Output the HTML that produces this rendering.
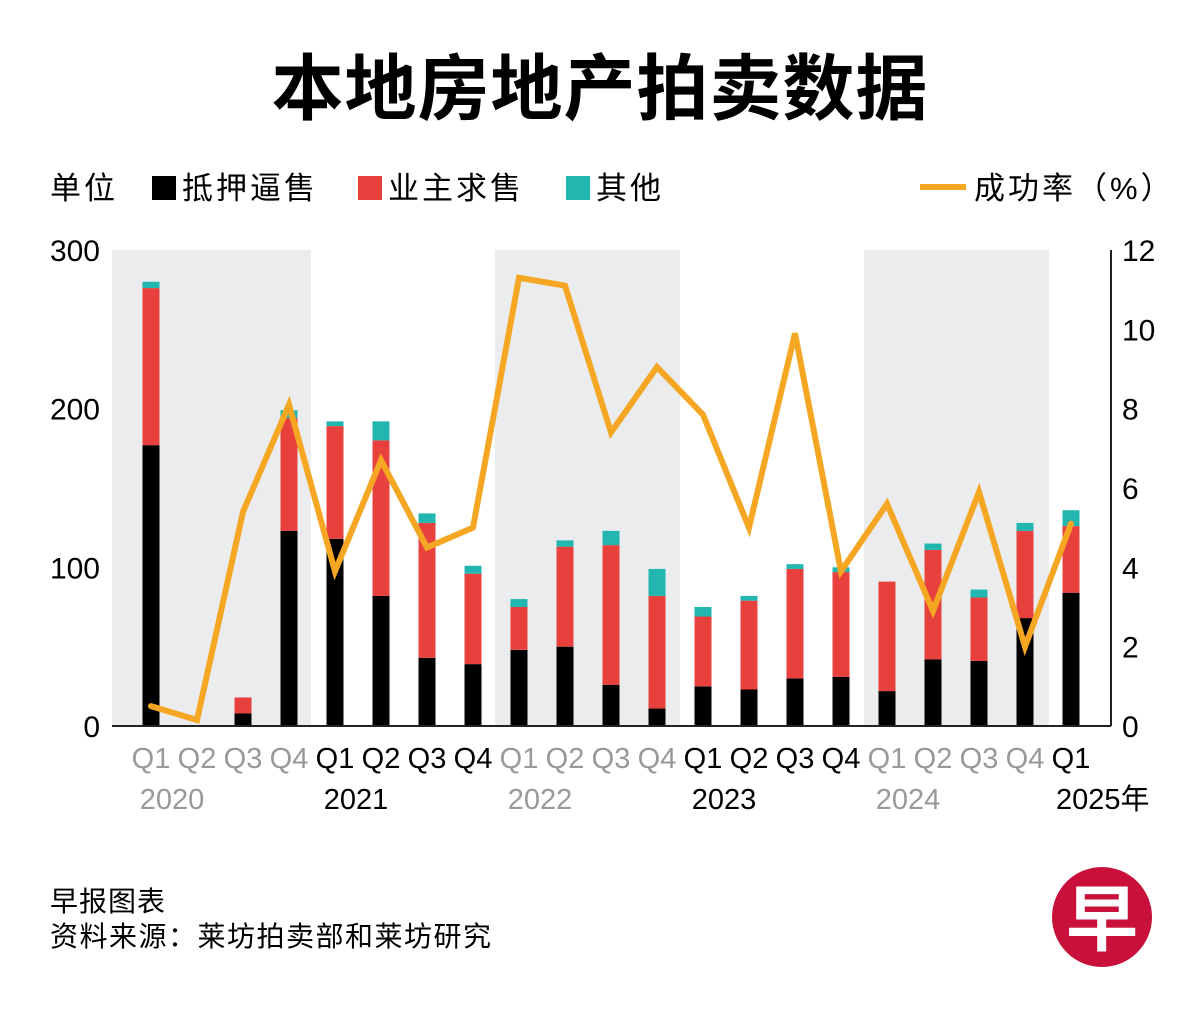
<!DOCTYPE html>
<html><head><meta charset="utf-8"><style>
body{margin:0;width:1200px;height:1016px;background:#fff;overflow:hidden;font-family:"Liberation Sans","Noto Sans CJK SC",sans-serif}
svg text{font-family:"Liberation Sans","Noto Sans CJK SC",sans-serif}
</style></head><body>
<svg width="1200" height="1016">
<text x="600" y="114" text-anchor="middle" font-size="72" font-weight="bold" letter-spacing="1">本地房地产拍卖数据</text>
<g font-size="31" letter-spacing="3">
<text x="50" y="199">单位</text>
<rect x="152" y="176" width="24" height="24" fill="#000"/>
<text x="182" y="199">抵押逼售</text>
<rect x="358" y="176" width="24" height="24" fill="#e8403c"/>
<text x="388" y="199">业主求售</text>
<rect x="566" y="176" width="24" height="24" fill="#22b6b0"/>
<text x="596" y="199">其他</text>
<line x1="920" y1="187" x2="966" y2="187" stroke="#f5a623" stroke-width="6"/>
<text x="974" y="199">成功率（%）</text>
</g>
<g id="plot"></g>
<text x="50" y="911" font-size="28" letter-spacing="1">早报图表</text>
<text x="50" y="946" font-size="28" letter-spacing="1.5">资料来源：莱坊拍卖部和莱坊研究</text>
<circle cx="1102" cy="917" r="50" fill="#c8103a"/>
<text x="1102" y="945" text-anchor="middle" font-size="72" font-weight="bold" fill="#fff">早</text>
</svg>
<script>
const quarters=["Q1","Q2","Q3","Q4","Q1","Q2","Q3","Q4","Q1","Q2","Q3","Q4","Q1","Q2","Q3","Q4","Q1","Q2","Q3","Q4","Q1"];
const years=["2020","2021","2022","2023","2024","2025年"];
const foreclosure=[177,0,8,123,118,82,43,39,48,50,26,11,25,23,30,31,22,42,41,68,84];
const owner=[99,0,10,71,71,98,85,57,27,63,88,71,44,56,69,66,69,69,40,55,42];
const other=[4,0,0,5,3,12,6,5,5,4,9,17,6,3,3,3,0,4,5,5,10];
const rate=[0.5,0.15,5.4,8.1,3.9,6.7,4.5,5.0,11.3,11.1,7.4,9.05,7.85,5.0,9.9,3.9,5.6,2.9,5.9,2.0,5.1];
const leftTicks=[0,100,200,300];
const rightTicks=[0,2,4,6,8,10,12];
const NS="http://www.w3.org/2000/svg";
const g=document.getElementById('plot');
const y0=726,yTop=250;
const yL=v=>y0-(v/300)*(y0-yTop);
const yR=v=>y0-(v/12)*(y0-yTop);
const xC=i=>151+i*46;
function mk(t,a){const e=document.createElementNS(NS,t);for(const k in a)e.setAttribute(k,a[k]);g.appendChild(e);return e;}
[[112,311],[495,680],[864,1049]].forEach((b,i)=>{
const r=mk('rect',{x:b[0],y:yTop,width:b[1]-b[0],height:y0-yTop,fill:'#ebecee'});


});
leftTicks.forEach(v=>{const t=mk('text',{x:100,y:yL(v)+11,'text-anchor':'end','font-size':30});t.textContent=v;

});
rightTicks.forEach(v=>{const t=mk('text',{x:1122,y:yR(v)+11,'font-size':30});t.textContent=v;

});
const ax=mk('line',{x1:1111,y1:yTop,x2:1111,y2:y0,stroke:'#222','stroke-width':2});


quarters.forEach((q,i)=>{
const x=xC(i),w=17;
const a=foreclosure[i],b=owner[i],c=other[i];
[[0,a,'#000','bar-foreclosure'],[a,a+b,'#e8403c','bar-owner'],[a+b,a+b+c,'#22b6b0','bar-other']].forEach(s=>{
if(s[1]<=s[0])return;
const r=mk('rect',{x:x-w/2,y:yL(s[1]),width:w,height:yL(s[0])-yL(s[1]),fill:s[2]});


});
const yr=Math.floor(i/4);
const col=(yr%2===0)?'#999':'#000';
const t=mk('text',{x:x,y:768,'text-anchor':'middle','font-size':29,fill:col});t.textContent=q;


});
years.forEach((y,k)=>{
const i=Math.min(k*4,20);
const x=(xC(i)+xC(i+1))/2-2;
const t=mk('text',{x:x,y:809,'text-anchor':k===5?'start':'middle','font-size':29,fill:(k%2===0)?'#999':'#000'});
if(k===5)t.setAttribute('x',xC(20)-15);
t.textContent=y;


});
const base=mk('line',{x1:112,y1:y0,x2:1111,y2:y0,stroke:'#222','stroke-width':2});


const pl=mk('polyline',{points:rate.map((v,i)=>xC(i)+','+yR(v)).join(' '),fill:'none',stroke:'#f5a623','stroke-width':6,'stroke-linejoin':'miter','stroke-linecap':'round'});


</script>
</body></html>
